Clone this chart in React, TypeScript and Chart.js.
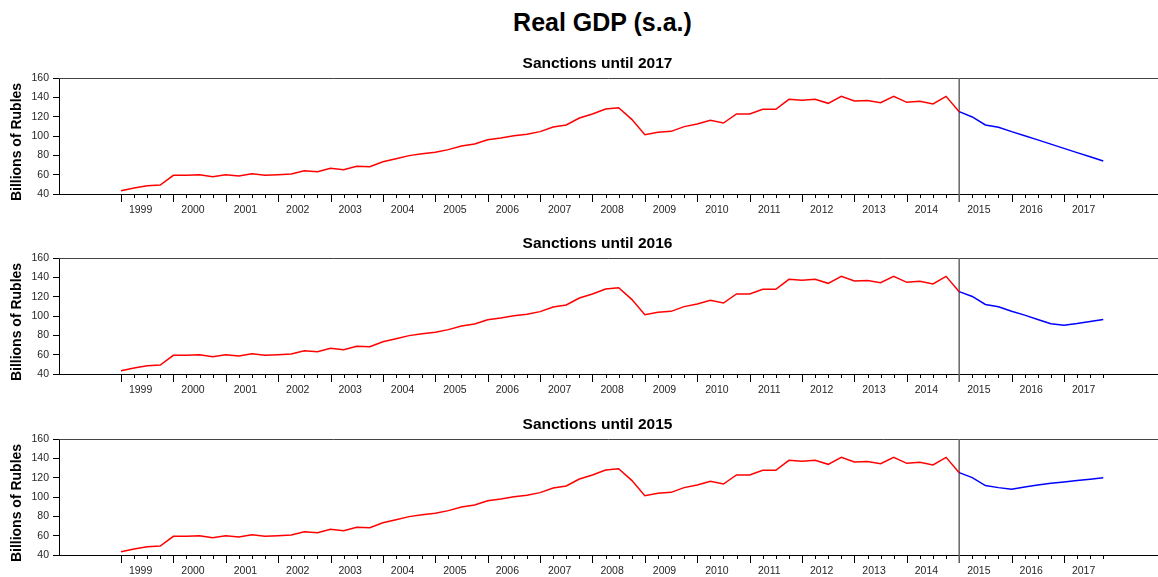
import React, { useEffect, useRef } from "react";
import { Chart, registerables } from "chart.js";

Chart.register(...registerables);

// ---- Data (quarterly, 1999Q1 .. 2017Q4) ----
const years = [
  "1999", "2000", "2001", "2002", "2003", "2004", "2005", "2006", "2007", "2008",
  "2009", "2010", "2011", "2012", "2013", "2014", "2015", "2016", "2017",
];

// Real GDP, 1999Q1 .. 2015Q1 (history, red)
const historyGDP = [
  43.4, 46.2, 48.6, 49.3,
  59.3, 59.3, 60.0, 57.9,
  60.0, 58.6, 61.0, 59.3,
  60.0, 60.7, 64.1, 63.1,
  66.6, 65.2, 68.6, 68.3,
  73.4, 76.5, 79.7, 81.7,
  83.1, 85.9, 89.7, 91.7,
  96.2, 97.9, 100.3, 101.7,
  104.5, 109.3, 111.4, 118.6,
  122.8, 127.9, 129.3, 117.2,
  101.4, 103.8, 104.8, 109.7,
  112.4, 116.2, 113.4, 122.8,
  122.8, 127.6, 127.6, 137.9,
  136.9, 137.9, 133.8, 141.0,
  136.2, 136.6, 134.5, 141.0,
  134.8, 135.9, 133.1, 141.0,
  125.2,
];

// Forecasts, 2015Q1 .. 2017Q4 (blue)
const forecastUntil2017 = [125.2, 119.7, 111.4, 109.0, 104.5, 100.2, 96.0, 91.6, 87.2, 82.8, 78.5, 74.1];
const forecastUntil2016 = [125.2, 120.2, 111.9, 109.5, 105.0, 100.9, 96.4, 91.9, 90.5, 92.2, 94.3, 96.4];
const forecastUntil2015 = [125.2, 120.1, 111.8, 109.7, 108.0, 110.4, 112.5, 114.2, 115.6, 117.0, 118.4, 119.8];

const panelTitles = ["Sanctions until 2017", "Sanctions until 2016", "Sanctions until 2015"];
const panelForecasts = [forecastUntil2017, forecastUntil2016, forecastUntil2015];
const yTicks = [40, 60, 80, 100, 120, 140, 160];
const yAxisTitle = "Billions of Rubles";

const FONT = '"Liberation Sans", Arial, Helvetica, sans-serif';
const SANCTION_INDEX = historyGDP.length - 1; // 2015Q1
const LAST_INDEX = SANCTION_INDEX + forecastUntil2017.length - 1;

const framePlugin = {
  id: "frame",
  beforeDatasetsDraw(chart: any) {
    const { ctx, chartArea } = chart;
    const xs = chart.scales.x;
    ctx.save();
    // top spine
    ctx.strokeStyle = "#444";
    ctx.lineWidth = 1;
    ctx.beginPath();
    ctx.moveTo(chartArea.left, Math.round(chartArea.top) + 0.5);
    ctx.lineTo(chartArea.right, Math.round(chartArea.top) + 0.5);
    ctx.stroke();
    // quarter tick marks
    ctx.strokeStyle = "#000";
    for (let i = 0; i <= LAST_INDEX; i++) {
      const px = Math.round(xs.getPixelForValue(i)) + 0.5;
      const len = i % 4 === 0 ? 8 : 4;
      ctx.beginPath();
      ctx.moveTo(px, chartArea.bottom);
      ctx.lineTo(px, chartArea.bottom + len);
      ctx.stroke();
    }
    // sanctions start line
    const vx = xs.getPixelForValue(SANCTION_INDEX);
    ctx.strokeStyle = "#666";
    ctx.lineWidth = 1.5;
    ctx.beginPath();
    ctx.moveTo(vx, chartArea.top);
    ctx.lineTo(vx, chartArea.bottom + 8);
    ctx.stroke();
    ctx.restore();
  },
  afterDraw(chart: any) {
    const { ctx, chartArea } = chart;
    const title = chart.options.plugins.frame.title;
    ctx.save();
    ctx.fillStyle = "#000";
    // panel title
    ctx.font = `bold 15.5px ${FONT}`;
    ctx.textAlign = "center";
    ctx.textBaseline = "middle";
    ctx.fillText(title, (chartArea.left + chartArea.right) / 2 - 11, chartArea.top - 14);
    // y axis title
    ctx.font = `bold 14px ${FONT}`;
    ctx.translate(17, (chartArea.top + chartArea.bottom) / 2 + 6);
    ctx.rotate(-Math.PI / 2);
    ctx.fillText(yAxisTitle, 0, 0);
    ctx.restore();
  },
};

function Panel({ title, forecast, top }: { title: string; forecast: number[]; top: number }) {
  const ref = useRef<HTMLCanvasElement | null>(null);
  useEffect(() => {
    if (!ref.current) return;
    const chart = new Chart(ref.current, {
      type: "line",
      data: {
        datasets: [
          {
            data: historyGDP.map((v, i) => ({ x: i, y: v })),
            borderColor: "#ff0000",
            borderWidth: 1.5,
            pointRadius: 0,
            tension: 0,
          },
          {
            data: forecast.map((v, i) => ({ x: SANCTION_INDEX + i, y: v })),
            borderColor: "#0000ff",
            borderWidth: 1.5,
            pointRadius: 0,
            tension: 0,
          },
        ],
      },
      options: {
        animation: false,
        responsive: false,
        maintainAspectRatio: false,
        events: [],
        layout: { padding: { top: 30, left: 0, right: 0, bottom: 0 } },
        plugins: {
          legend: { display: false },
          tooltip: { enabled: false },
          title: { display: false },
          frame: { title },
        },
        scales: {
          x: {
            type: "linear",
            min: -4.73,
            max: 79.18,
            afterBuildTicks: (s: any) => {
              s.ticks = years.map((_, k) => ({ value: 4 * k + 1.5 }));
            },
            ticks: {
              autoSkip: false,
              maxRotation: 0,
              minRotation: 0,
              padding: 10,
              color: "#262626",
              font: { family: FONT, size: 10.5 },
              callback: (v: any) => {
                const k = Math.round((Number(v) - 1.5) / 4);
                return years[k] ?? "";
              },
            },
            grid: { display: false, drawTicks: false },
            border: { display: true, color: "#000", width: 1 },
            afterFit: (s: any) => {
              s.height = 30;
            },
          },
          y: {
            min: 40,
            max: 160,
            afterBuildTicks: (s: any) => {
              s.ticks = yTicks.map((v) => ({ value: v }));
            },
            ticks: {
              padding: 4,
              color: "#262626",
              font: { family: FONT, size: 10.5 },
            },
            grid: { drawOnChartArea: false, tickLength: 6, color: "#000" },
            border: { display: true, color: "#000", width: 1 },
            title: { display: false },
            afterFit: (s: any) => {
              s.width = 59;
            },
          },
        },
      },
      plugins: [framePlugin],
    } as any);
    return () => chart.destroy();
  }, [title, forecast]);
  return (
    <div style={{ position: "absolute", left: 0, top, width: 1158, height: 176 }}>
      <canvas ref={ref} width={1158} height={176} style={{ display: "block" }} />
    </div>
  );
}

export default function App() {
  const tops = [48, 228, 409];
  return (
    <div
      style={{
        position: "absolute",
        left: 0,
        top: 0,
        width: 1158,
        height: 577,
        background: "#fff",
        overflow: "hidden",
      }}
    >
      <div
        style={{
          position: "absolute",
          left: 59,
          width: 1087,
          top: 10,
          height: 25,
          lineHeight: "25px",
          textAlign: "center",
          fontFamily: FONT,
          fontWeight: "bold",
          fontSize: 25,
          color: "#000",
        }}
      >
        Real GDP (s.a.)
      </div>
      {panelTitles.map((t, i) => (
        <Panel key={t} title={t} forecast={panelForecasts[i]} top={tops[i]} />
      ))}
    </div>
  );
}
